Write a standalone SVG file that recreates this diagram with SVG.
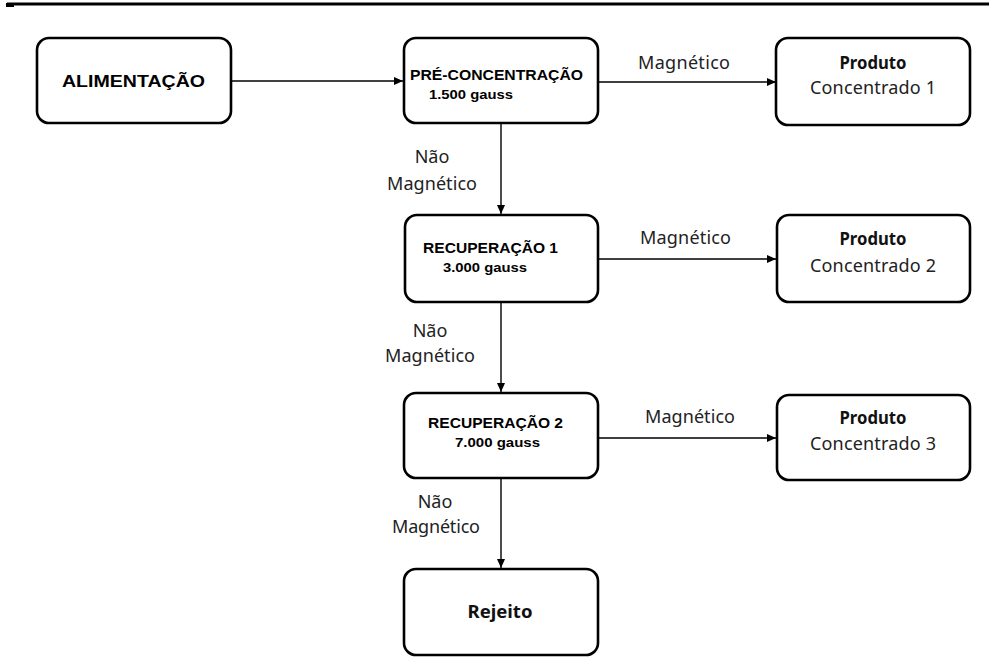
<svg xmlns="http://www.w3.org/2000/svg" width="992" height="670" viewBox="0 0 992 670">
<defs>
<style>
.box{fill:#fff;stroke:#000;stroke-width:2.6}
.con{stroke:#000;stroke-width:1.4;fill:none}
.b{font-family:"Liberation Sans",Arial,sans-serif;font-weight:bold;fill:#000}
.c{font-family:"Noto Sans","Open Sans",sans-serif;fill:#222;font-size:18px}
.cb{font-family:"Noto Sans","Open Sans",sans-serif;font-weight:bold;fill:#111;font-size:17px}
</style>
<marker id="ah" markerWidth="10" markerHeight="10" refX="9" refY="5" orient="auto" markerUnits="userSpaceOnUse">
<path d="M0,1 L9,5 L0,9 Z" fill="#000"/>
</marker>
</defs>
<rect width="992" height="670" fill="#fff"/>
<line x1="7" y1="4" x2="989" y2="4" stroke="#000" stroke-width="3"/>
<rect x="6" y="3" width="8" height="4" fill="#000"/>

<g id="connectors">
<line class="con" x1="231" y1="81" x2="403" y2="81" marker-end="url(#ah)"/>
<line class="con" x1="598" y1="82" x2="776" y2="82" marker-end="url(#ah)"/>
<line class="con" x1="501" y1="123" x2="501" y2="214" marker-end="url(#ah)"/>
<line class="con" x1="598" y1="259" x2="776" y2="259" marker-end="url(#ah)"/>
<line class="con" x1="501" y1="302" x2="501" y2="392" marker-end="url(#ah)"/>
<line class="con" x1="598" y1="438" x2="776" y2="438" marker-end="url(#ah)"/>
<line class="con" x1="501" y1="478" x2="501" y2="568" marker-end="url(#ah)"/>
<text class="c" x="638" y="69" textLength="92" lengthAdjust="spacing">Magnético</text>
<text class="c" x="640" y="244" textLength="91" lengthAdjust="spacing">Magnético</text>
<text class="c" x="645" y="423" textLength="90" lengthAdjust="spacing">Magnético</text>
<text class="c" x="432" y="163" text-anchor="middle">Não</text>
<text class="c" x="387" y="190" textLength="90" lengthAdjust="spacing">Magnético</text>
<text class="c" x="430" y="337" text-anchor="middle">Não</text>
<text class="c" x="385" y="362" textLength="90" lengthAdjust="spacing">Magnético</text>
<text class="c" x="435" y="508" text-anchor="middle">Não</text>
<text class="c" x="392" y="533" textLength="88" lengthAdjust="spacing">Magnético</text>
</g>

<g id="alimentacao">
<rect class="box" x="37" y="38" width="194" height="85" rx="12"/>
<text class="b" x="62" y="87" font-size="17" textLength="143" lengthAdjust="spacingAndGlyphs">ALIMENTAÇÃO</text>
</g>

<g id="pre-concentracao">
<rect class="box" x="404" y="38" width="194" height="85" rx="12"/>
<text class="b" x="410" y="80" font-size="14" textLength="173" lengthAdjust="spacingAndGlyphs">PRÉ-CONCENTRAÇÃO</text>
<text class="b" x="429" y="99" font-size="13" textLength="84" lengthAdjust="spacingAndGlyphs">1.500 gauss</text>
</g>

<g id="recuperacao1">
<rect class="box" x="405" y="215" width="193" height="87" rx="12"/>
<text class="b" x="423" y="253" font-size="14" textLength="135" lengthAdjust="spacingAndGlyphs">RECUPERAÇÃO 1</text>
<text class="b" x="443" y="272" font-size="13" textLength="84" lengthAdjust="spacingAndGlyphs">3.000 gauss</text>
</g>

<g id="recuperacao2">
<rect class="box" x="404" y="393" width="194" height="85" rx="12"/>
<text class="b" x="428" y="428" font-size="14" textLength="135" lengthAdjust="spacingAndGlyphs">RECUPERAÇÃO 2</text>
<text class="b" x="455" y="447" font-size="13" textLength="85" lengthAdjust="spacingAndGlyphs">7.000 gauss</text>
</g>

<g id="rejeito">
<rect class="box" x="404" y="569" width="194" height="86" rx="12"/>
<text class="cb" x="500" y="618" text-anchor="middle" textLength="65" lengthAdjust="spacingAndGlyphs">Rejeito</text>
</g>

<g id="produto1">
<rect class="box" x="776" y="38" width="194" height="87" rx="12"/>
<text class="cb" x="873" y="69" text-anchor="middle" textLength="67" lengthAdjust="spacingAndGlyphs">Produto</text>
<text class="c" x="810" y="94" textLength="126" lengthAdjust="spacing">Concentrado 1</text>
</g>

<g id="produto2">
<rect class="box" x="777" y="215" width="193" height="87" rx="12"/>
<text class="cb" x="873" y="245" text-anchor="middle" textLength="67" lengthAdjust="spacingAndGlyphs">Produto</text>
<text class="c" x="810" y="272" textLength="126" lengthAdjust="spacing">Concentrado 2</text>
</g>

<g id="produto3">
<rect class="box" x="777" y="395" width="193" height="85" rx="12"/>
<text class="cb" x="873" y="424" text-anchor="middle" textLength="67" lengthAdjust="spacingAndGlyphs">Produto</text>
<text class="c" x="810" y="450" textLength="126" lengthAdjust="spacing">Concentrado 3</text>
</g>
</svg>
